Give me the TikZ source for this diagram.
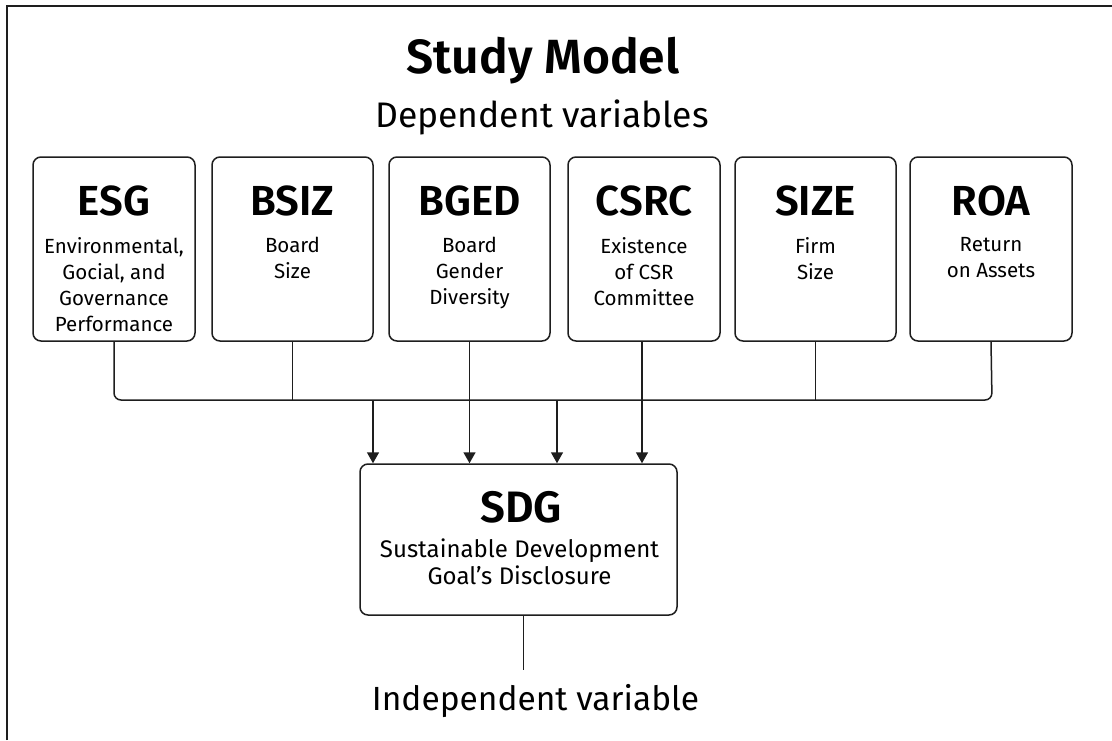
\documentclass[tikz,border=0pt]{standalone}
\usepackage{fontspec}
\setmainfont{Fira Sans}
\newfontfamily\semib{Fira Sans}[UprightFont={* SemiBold}]
\usetikzlibrary{arrows.meta}
\definecolor{ink}{HTML}{1E1E1E}
\tikzset{
  box/.style={draw=ink, line width=1.5pt, rounded corners=8pt, inner sep=0pt},
  headtxt/.style={font=\semib\fontsize{42}{50}\selectfont, anchor=base, inner sep=0pt, text=black},
  bodytxt/.style={font=\fontsize{20.5}{26}\selectfont, align=center, anchor=north, inner sep=0pt, text=black},
  conn/.style={draw=ink, line width=1.5pt},
  arr/.style={conn, -{Triangle[width=12pt,length=11pt]}},
}
\begin{document}
\begin{tikzpicture}[x=1pt,y=-1pt]
\useasboundingbox (0,0) rectangle (1112,740);
\fill[white] (0,0) rectangle (1112,740);
% frame
\draw[ink, line width=1.6pt] (7,740) -- (7,6) -- (1112,6);

% titles
\node[font=\semib\fontsize{48}{56}\selectfont, anchor=base, inner sep=0pt] (title) at (543,73) {Study Model};
\node[font=\fontsize{35.5}{42}\selectfont, anchor=base, inner sep=0pt] (dep) at (542,127) {Dependent variables};

% top boxes
\node[box, minimum width=162pt, minimum height=184pt] (esg)  at (114,249) {};
\node[box, minimum width=161pt, minimum height=184pt] (bsiz) at (292.5,249) {};
\node[box, minimum width=161pt, minimum height=184pt] (bged) at (469.5,249) {};
\node[box, minimum width=152pt, minimum height=184pt] (csrc) at (644,249) {};
\node[box, minimum width=161pt, minimum height=184pt] (size) at (815.5,249) {};
\node[box, minimum width=162pt, minimum height=184pt] (roa)  at (991,249) {};

\node[headtxt] (esgh)  at (114,215)   {ESG};
\node[headtxt] (bsizh) at (292.5,215) {BSIZ};
\node[headtxt] (bgedh) at (469.5,215) {BGED};
\node[headtxt] (csrch) at (644,215)   {CSRC};
\node[headtxt] (sizeh) at (815.5,215) {SIZE};
\node[headtxt] (roah)  at (991,215)   {ROA};

\node[bodytxt] (esgb)  at (114,237)   {Environmental,\\Gocial, and\\Governance\\Performance};
\node[bodytxt] (bsizb) at (292.5,237) {Board\\Size};
\node[bodytxt] (bgedb) at (469.5,237) {Board\\Gender\\Diversity};
\node[bodytxt] (csrcb) at (644,237)   {Existence\\of CSR\\Committee};
\node[bodytxt] (sizeb) at (815.5,237) {Firm\\Size};
\node[bodytxt] (roab)  at (991,237)   {Return\\on Assets};

% SDG box
\node[box, minimum width=317pt, minimum height=151pt] (sdg) at (518.5,539.5) {};
\node[font=\semib\fontsize{44}{52}\selectfont, anchor=base, inner sep=0pt] (sdgh) at (521,522) {SDG};
\node[font=\fontsize{24}{27}\selectfont, align=center, anchor=north, inner sep=0pt] (sdgb) at (519.5,539) {Sustainable Development\\Goal's Disclosure};

% bus
\coordinate (busL) at (114,400);
\coordinate (busR) at (992,400);
\draw[conn, rounded corners=7pt] (esg.south) -- (busL) -- (busR) -- (roa.south);
\draw[conn] (bsiz.south) -- (bsiz.south |- busL);
\draw[conn] (size.south) -- (size.south |- busL);

% arrows
\coordinate (a1) at (373,400);
\coordinate (a3) at (557,400);
\coordinate (a4) at (642,341);
\draw[arr] (a1) -- (a1 |- sdg.north);
\draw[arr] (bged.south) -- (bged.south |- sdg.north);
\draw[arr] (a3) -- (a3 |- sdg.north);
\draw[arr] (a4) -- (a4 |- sdg.north);

% independent
\coordinate (indtop) at (523,670);
\draw[conn, line width=1pt] (sdg.south -| indtop) -- (indtop);
\node[font=\fontsize{33.5}{40}\selectfont, anchor=base, inner sep=0pt] (indep) at (535.5,710) {Independent variable};
\end{tikzpicture}
\end{document}
